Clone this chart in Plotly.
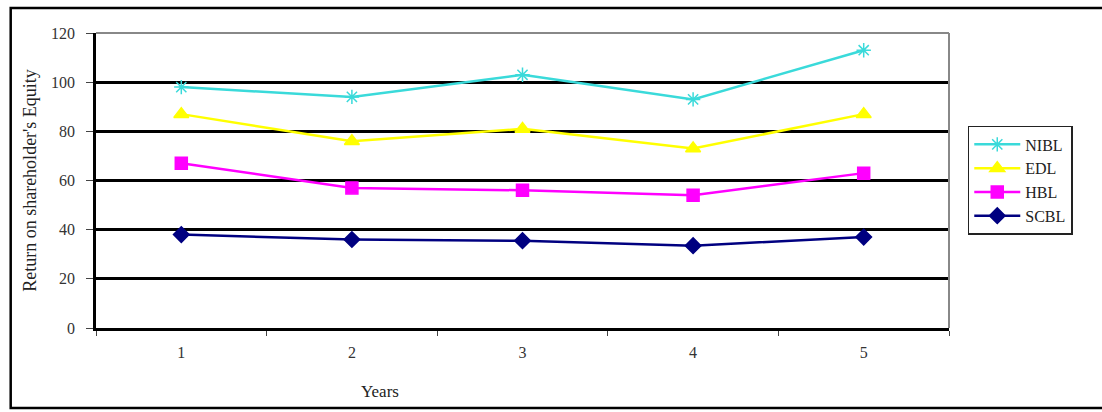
import plotly.graph_objects as go

# Return on shareholder's equity by bank over five years
years = ["1", "2", "3", "4", "5"]
nibl = [98, 94, 103, 93, 113]
edl = [87, 76, 81, 73, 87]
hbl = [67, 57, 56, 54, 63]
scbl = [38, 36, 35.5, 33.5, 37]

series = [
    ("NIBL", nibl, "#3ADADA", "asterisk-open", 12),
    ("EDL", edl, "#FFFF00", "triangle-up", 13),
    ("HBL", hbl, "#FF00FF", "square", 12),
    ("SCBL", scbl, "#000080", "diamond", 12),
]

serif = "Liberation Serif, Times New Roman, serif"

fig = go.Figure()
for name, vals, color, symbol, size in series:
    fig.add_trace(go.Scatter(
        x=years, y=vals, name=name, mode="lines+markers",
        line=dict(color=color, width=2.5),
        marker=dict(symbol=symbol, size=size, color=color,
                    line=dict(color=color, width=1.5)),
    ))

fig.update_layout(
    width=1102, height=412,
    margin=dict(l=96, r=153, t=33, b=84),
    paper_bgcolor="white", plot_bgcolor="white",
    font=dict(family=serif, size=16, color="#333333"),
    showlegend=True,
    legend=dict(
        x=1.022, y=0.685, xanchor="left", yanchor="top",
        bordercolor="#222222", borderwidth=1.5,
        font=dict(family=serif, size=16, color="#222222"),
        tracegroupgap=0, itemwidth=46, entrywidth=118,
    ),
    xaxis=dict(
        type="category", range=[-0.5, 4.5],
        showgrid=False, zeroline=False,
        showline=True, linecolor="black", linewidth=2.5,
        ticks="outside", tickson="boundaries", ticklen=5,
        tickcolor="#444444", tickwidth=1,
        ticklabelstandoff=8,
        tickfont=dict(family=serif, size=16, color="#333333"),
    ),
    yaxis=dict(
        range=[0, 120], dtick=20,
        showgrid=True, gridcolor="black", gridwidth=2.5,
        zeroline=False,
        showline=True, linecolor="black", linewidth=2.5,
        ticks="outside", ticklen=7, tickcolor="#444444", tickwidth=1,
        ticklabelstandoff=8,
        tickfont=dict(family=serif, size=16, color="#333333"),
        title=dict(text="Return on shareholder's Equity",
                   font=dict(family=serif, size=18, color="#222222"),
                   standoff=10),
    ),
    annotations=[
        dict(text="Years", xref="paper", yref="paper", x=0.333, y=-0.215,
             xanchor="center", yanchor="middle", showarrow=False,
             font=dict(family=serif, size=17, color="#222222")),
    ],
    shapes=[
        # plot area border (top and right)
        dict(type="line", xref="paper", yref="paper", x0=0, x1=1, y0=1, y1=1,
             line=dict(color="#888888", width=2), layer="above"),
        dict(type="line", xref="paper", yref="paper", x0=1, x1=1, y0=0, y1=1,
             line=dict(color="#888888", width=2), layer="above"),
        # outer chart frame
        dict(type="rect", xref="paper", yref="paper",
             x0=-0.1, x1=1.2, y0=-0.271, y1=1.085,
             line=dict(color="black", width=2.5)),
    ],
)

fig.write_html("out.html")
